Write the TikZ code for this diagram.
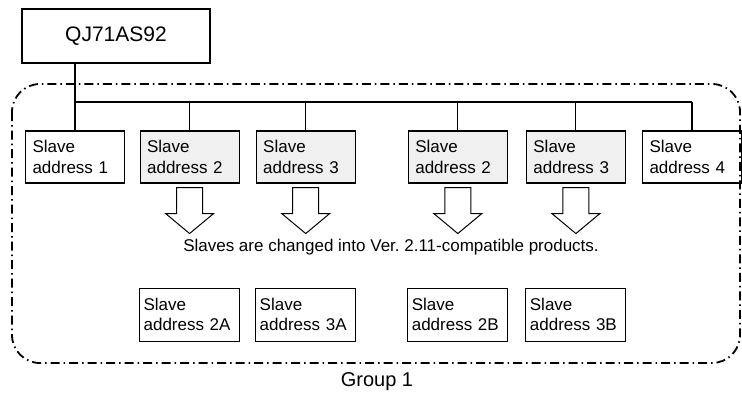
\documentclass[tikz,border=0pt]{standalone}
\usepackage{fontspec}
\setmainfont{Liberation Sans}
\usetikzlibrary{positioning}

\begin{document}
\frenchspacing
\begin{tikzpicture}[x=1pt,y=-1pt,line width=1.1pt,
  font=\fontsize{17}{21}\selectfont,
  master node/.style={draw,minimum width=188pt,minimum height=54pt,inner sep=0pt,font=\fontsize{21}{25}\selectfont},
  slave node/.style={draw,fill=white,align=left,text width=85pt,inner xsep=7pt,inner ysep=0pt,minimum height=52pt},
  old node/.style={slave node,fill=gray!12},
  new node/.style={slave node,text width=92pt,inner xsep=4pt,minimum height=53pt,font=\fontsize{17}{20}\selectfont},
  block arrow/.style={draw,fill=white,line width=1pt},
  group line/.style={line width=1.8pt,rounded corners=28pt,dash pattern=on 9pt off 4pt on 1.5pt off 4pt}]

  \useasboundingbox (0,0) rectangle (742,394);

  \node[master node] (qj) at (116,36) {QJ71AS92};

  % slaves on the line
  \node[slave node] (s1) at (75,157) {Slave\\address 1};
  \node[old node] (s2) [right=14.5pt of s1] {Slave\\address 2};
  \node[old node] (s3) [right=16pt of s2] {Slave\\address 3};
  \node[old node] (s4) [right=52pt of s3] {Slave\\address 2};
  \node[old node] (s5) [right=18pt of s4] {Slave\\address 3};
  \node[slave node] (s6) [right=16pt of s5] {Slave\\address 4};

  % replacements
  \node[new node] (n2a) [below=104pt of s2] {Slave\\address 2A};
  \node[new node] (n3a) [below=104pt of s3] {Slave\\address 3A};
  \node[new node] (n2b) [below=104pt of s4] {Slave\\address 2B};
  \node[new node] (n3b) [below=104pt of s5] {Slave\\address 3B};

  % bus
  \coordinate (bus) at (75,102);
  \draw (qj.south -| s1.north) -- (s1.north);
  \draw (bus) -- (bus -| s6.north);
  \foreach \n in {s2,s3,s4,s5,s6}
    \draw (bus -| \n.north) -- (\n.north);

  \foreach \n in {s2,s3,s4,s5}
    \draw[block arrow] ([yshift=-4pt]\n.south) ++(-13,0) -- ++(0,26) -- ++(-11,0)
      -- ++(24,20) -- ++(24,-20) -- ++(-11,0) -- ++(0,-26) -- cycle;

  \node (change) at (391,247) {Slaves are changed into Ver. 2.11-compatible products.};

  %\node[container, fit=(s1) (s6)] {};
  \draw[group line] (12,84) rectangle (740,363);
  \node[font=\fontsize{20}{24}\selectfont] (group) at (377,382) {Group 1};
\end{tikzpicture}
\end{document}
